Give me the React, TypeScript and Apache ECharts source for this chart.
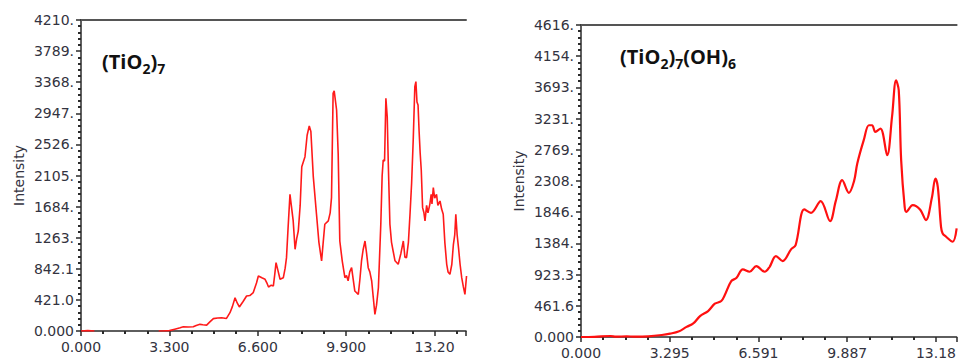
import React, { useEffect, useRef } from "react";
import * as echarts from "echarts";

// ---- Left panel: (TiO2)7 ----
const leftXLabels = ["0.000", "3.300", "6.600", "9.900", "13.20"];
const leftYLabels = ["0.000", "421.0", "842.1", "1263.", "1684.", "2105.", "2526.", "2947.", "3368.", "3789.", "4210."];
const leftX = [0, 0.25, 0.5, 0.6, 2.9, 3.05, 3.3, 3.5, 3.7, 3.82, 4.0, 4.19, 4.3, 4.44, 4.55, 4.69, 4.8, 4.94, 5.1, 5.25, 5.43, 5.56, 5.65, 5.75, 5.83, 5.91, 6.05, 6.18, 6.3, 6.43, 6.55, 6.62, 6.75, 6.87, 6.95, 7.0, 7.1, 7.18, 7.23, 7.28, 7.35, 7.43, 7.55, 7.62, 7.67, 7.73, 7.8, 7.85, 7.92, 7.99, 8.05, 8.11, 8.18, 8.24, 8.36, 8.44, 8.52, 8.58, 8.67, 8.79, 8.88, 8.98, 9.04, 9.1, 9.23, 9.3, 9.35, 9.41, 9.45, 9.54, 9.6, 9.66, 9.75, 9.85, 9.91, 9.97, 10.03, 10.1, 10.16, 10.22, 10.35, 10.41, 10.47, 10.53, 10.6, 10.66, 10.72, 10.78, 10.85, 10.91, 10.97, 11.03, 11.1, 11.19, 11.24, 11.28, 11.33, 11.38, 11.43, 11.47, 11.53, 11.59, 11.65, 11.72, 11.84, 11.94, 12.03, 12.09, 12.15, 12.22, 12.28, 12.34, 12.4, 12.46, 12.5, 12.54, 12.58, 12.62, 12.66, 12.7, 12.75, 12.8, 12.84, 12.9, 12.95, 13.02, 13.07, 13.1, 13.15, 13.2, 13.27, 13.32, 13.4, 13.46, 13.52, 13.58, 13.65, 13.7, 13.77, 13.84, 13.9, 13.95, 13.99, 14.04, 14.09, 14.15, 14.21, 14.27, 14.33, 14.39];
const leftY = [0, 5, 0, null, 0, 0, 5, 25, 45, 58, 55, 58, 75, 90, 85, 80, 120, 167, 175, 180, 170, 248, 330, 451, 380, 325, 400, 474, 480, 520, 650, 745, 720, 700, 640, 596, 620, 610, 760, 925, 820, 700, 720, 850, 993, 1400, 1850, 1700, 1490, 1106, 1250, 1354, 1700, 2224, 2360, 2650, 2776, 2700, 2090, 1580, 1200, 948, 1200, 1445, 1490, 1600, 1805, 3218, 3250, 2992, 2390, 1218, 950, 722, 750, 680, 800, 857, 700, 541, 496, 700, 948, 1100, 1218, 1050, 857, 800, 677, 450, 226, 350, 586, 1445, 2100, 2315, 2300, 3150, 2900, 2260, 1445, 1200, 1083, 950, 903, 1050, 1218, 1000, 993, 1200, 1580, 2000, 2586, 3308, 3376, 3100, 3060, 2700, 2406, 2180, 1670, 1600, 1490, 1700, 1600, 1715, 1850, 1720, 1940, 1800, 1850, 1700, 1760, 1650, 1580, 1200, 903, 800, 768, 900, 1174, 1300, 1580, 1300, 1128, 900, 722, 600, 496, 745];

// ---- Right panel: (TiO2)7(OH)6 ----
const rightXLabels = ["0.000", "3.295", "6.591", "9.887", "13.18"];
const rightYLabels = ["0.000", "461.6", "923.3", "1384.", "1846.", "2308.", "2769.", "3231.", "3693.", "4154.", "4616."];
const rightX = [0, 0.5, 1.1, 1.3, 1.7, 2.0, 2.5, 3.0, 3.31, 3.62, 3.92, 4.17, 4.42, 4.72, 4.97, 5.21, 5.34, 5.58, 5.77, 6.01, 6.26, 6.51, 6.82, 7.0, 7.24, 7.49, 7.8, 7.97, 8.29, 8.54, 8.9, 9.25, 9.46, 9.7, 9.95, 10.14, 10.26, 10.5, 10.69, 10.81, 10.93, 11.12, 11.37, 11.55, 11.7, 11.8, 11.89, 12.02, 12.08, 12.32, 12.59, 12.81, 13.03, 13.16, 13.25, 13.37, 13.43, 13.56, 13.8, 13.95];
const rightY = [0, 3, 15, 5, 10, 5, 10, 30, 50, 80, 150, 200, 310, 384, 492, 532, 620, 828, 872, 1000, 965, 1050, 965, 1035, 1197, 1123, 1296, 1360, 1887, 1837, 2010, 1714, 2010, 2320, 2133, 2306, 2567, 2912, 3133, 3133, 3034, 3084, 2690, 3256, 3798, 3650, 2616, 1926, 1852, 1951, 1887, 1729, 2059, 2345, 2221, 1630, 1533, 1483, 1409, 1606];

const zip = (xs: number[], ys: (number | null)[]) => xs.map((x, i) => [x, ys[i]]);

const AXIS = "#2a2a2a";
const LABEL = "#333340";
const FONT = "DejaVu Sans";

function panel(idx: number, left: number, top: number, bottom: number, right: number, xMax: number, xInt: number, xLabels: string[], yMax: number, yInt: number, yLabels: string[]) {
  const grid = { left, top, bottom, right };
  const xAxis = [
    {
      type: "value",
      gridIndex: idx,
      min: 0,
      max: xMax,
      interval: xInt,
      axisLine: { show: true, lineStyle: { color: AXIS, width: 1.5 } },
      axisTick: { show: true, length: 5, lineStyle: { color: AXIS, width: 1.5 } },
      minorTick: { show: true, splitNumber: 4, length: 3, lineStyle: { color: AXIS, width: 2 } },
      splitLine: { show: false },
      axisLabel: {
        color: LABEL,
        fontFamily: FONT,
        fontSize: 14,
        margin: 9,
        showMaxLabel: false,
        formatter: (v: number) => {
          const i = Math.round(v / xInt);
          return Math.abs(v - i * xInt) < 1e-6 ? xLabels[i] ?? "" : "";
        },
      },
    },
    {
      type: "value",
      gridIndex: idx,
      position: "top",
      min: 0,
      max: xMax,
      axisLine: { show: true, lineStyle: { color: "#555", width: 2 } },
      axisTick: { show: false },
      axisLabel: { show: false },
      splitLine: { show: false },
    },
  ];
  const yAxis = {
    type: "value",
    gridIndex: idx,
    min: 0,
    max: yMax,
    interval: yInt,
    name: "Intensity",
    nameLocation: "middle",
    nameGap: 55,
    nameTextStyle: { color: LABEL, fontFamily: FONT, fontSize: 14 },
    axisLine: { show: true, lineStyle: { color: AXIS, width: 1.5 } },
    axisTick: { show: true, length: 5, lineStyle: { color: AXIS, width: 1.5 } },
    minorTick: { show: true, splitNumber: 5, length: 3, lineStyle: { color: AXIS, width: 2 } },
    splitLine: { show: false },
    axisLabel: {
      color: LABEL,
      fontFamily: FONT,
      fontSize: 14,
      margin: 7,
      formatter: (v: number) => yLabels[Math.round(v / yInt)] ?? "",
    },
  };
  return { grid, xAxis, yAxis };
}

export default function App() {
  const ref = useRef<HTMLDivElement>(null);
  useEffect(() => {
    if (!ref.current) return;
    const chart = echarts.init(ref.current, null, { renderer: "svg" });
    const p0 = panel(0, 81, 20, 31, 493, 14.37, 3.3, leftXLabels, 4210, 421, leftYLabels);
    const p1 = panel(1, 581, 25, 25, 0, 13.95, 3.2955, rightXLabels, 4616, 461.6, rightYLabels);
    const rich = {
      a: { fontFamily: "Open Sans", fontWeight: "bold", fontSize: 20, color: "#111", lineHeight: 28, verticalAlign: "middle" },
      s: { fontFamily: "Open Sans", fontWeight: "bold", fontSize: 14, color: "#111", lineHeight: 14, verticalAlign: "bottom" },
    };
    chart.setOption({
      animation: false,
      backgroundColor: "#fff",
      title: [
        { text: "{a|(TiO}{s|2}{a|)}{s|7}", left: 102, top: 47, padding: 0, textStyle: { rich } },
        { text: "{a|(TiO}{s|2}{a|)}{s|7}{a|(OH)}{s|6}", left: 620, top: 42, padding: 0, textStyle: { rich } },
      ],
      grid: [p0.grid, p1.grid],
      xAxis: [p0.xAxis[0], p0.xAxis[1], { ...p1.xAxis[0] }, { ...p1.xAxis[1] }].map((a, i) => ({ ...a, gridIndex: i < 2 ? 0 : 1 })),
      yAxis: [p0.yAxis, p1.yAxis],
      series: [
        {
          type: "line",
          xAxisIndex: 0,
          yAxisIndex: 0,
          data: zip(leftX, leftY),
          showSymbol: false,
          connectNulls: false,
          lineStyle: { color: "#ff1a1a", width: 1.6 },
        },
        {
          type: "line",
          xAxisIndex: 2,
          yAxisIndex: 1,
          data: zip(rightX, rightY),
          showSymbol: false,
          smooth: 0.35,
          lineStyle: { color: "#ff1010", width: 2.2 },
        },
      ],
    });
    return () => chart.dispose();
  }, []);
  return <div ref={ref} style={{ position: "fixed", left: 0, top: 0, width: 959, height: 362 }} />;
}
